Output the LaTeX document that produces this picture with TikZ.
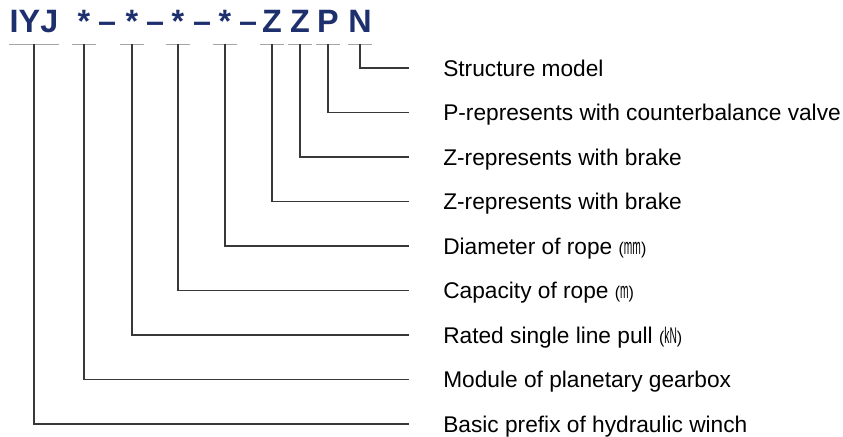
\documentclass[tikz,border=0pt]{standalone}
\usepackage{fontspec}
\setmainfont{Liberation Sans}
\usepackage{graphicx}
\usetikzlibrary{positioning}
\definecolor{codeblue}{HTML}{1E2F6E}
\definecolor{linegray}{HTML}{383838}
\newcommand{\unitpar}[1]{\scalebox{0.7}[0.75]{(}\scalebox{0.45}[1]{#1}\scalebox{0.7}[0.75]{)}}

\begin{document}
\begin{tikzpicture}[
  code/.style={anchor=base, text=codeblue, font=\fontsize{23}{26}\selectfont\bfseries,
    inner xsep=0pt, inner ysep=0pt, text depth=0.275cm, minimum width=0.6cm},
  desc/.style={font=\fontsize{16.15}{19}\selectfont, inner sep=0pt, text height=11.6pt, text depth=0pt},
  link/.style={draw=linegray, line width=1.3pt},
  bar/.style={draw=gray!70, line width=1pt}]
\useasboundingbox (0,0) rectangle (21.075,-10.925);
\foreach \n/\x/\t in {1/0.85/IYJ,2/2.1/*,3/3.3/*,4/4.45/*,5/5.625/*,6/6.8/Z,7/7.5/Z,8/8.2/P,9/9.0/N}
  \node[code] (c\n) at (\x,-0.825) {\t};
\foreach \n/\x in {1/2.675,2/3.875,3/5.05,4/6.2}
  \node[code] (d\n) at (\x,-0.825) {–};
\foreach \n/\t in {9/Structure model,8/P-represents with counterbalance valve,
    7/Z-represents with brake,6/Z-represents with brake,5/Diameter of rope \unitpar{mm},
    4/Capacity of rope \unitpar{m},3/Rated single line pull \unitpar{kN},
    2/Module of planetary gearbox,1/Basic prefix of hydraulic winch} {
  \coordinate (e\n) at (10.225,{-1.7-1.1125*(9-\n)});
  \node[desc, right=0.85cm of e\n] (l\n) {\t};
  \draw[bar] (c\n.south west) -- (c\n.south east);
  \draw[link] (c\n.south) |- (e\n);
}
\end{tikzpicture}
\end{document}
